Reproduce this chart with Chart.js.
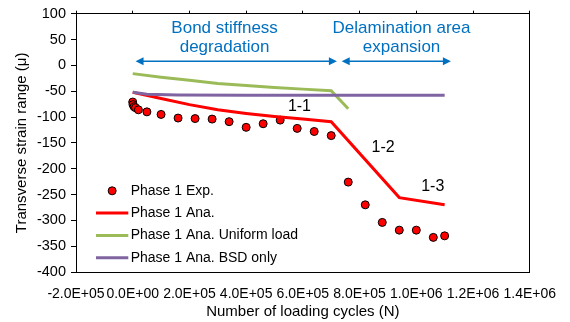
<!DOCTYPE html>
<html>
<head>
<meta charset="utf-8">
<script src="https://cdn.jsdelivr.net/npm/chart.js@4.4.1/dist/chart.umd.min.js"></script>
<style>
  html, body { margin: 0; padding: 0; background: #fff; }
  #wrap { width: 570px; height: 322px; }
</style>
</head>
<body>
<div id="wrap"><canvas id="c" width="570" height="322"></canvas></div>
<script>
// Phase 1 experimental measurements
const expCycles = [0, 1000, 5000, 10000, 20000, 50000, 100000, 160000, 220000, 280000, 340000, 400000,
                   460000, 520000, 580000, 640000, 700000, 760000, 820000, 880000, 940000, 1000000, 1060000, 1100000];
const expStrain = [-71, -76, -80, -82, -86, -90, -95, -102, -103, -104, -109, -120,
                   -113, -106, -122, -128, -136, -226, -270, -304, -319, -319, -333, -330];

// Phase 1 analytical model
const anaCycles = [0, 100000, 200000, 300000, 400000, 500000, 600000, 700000, 940000, 1100000];
const anaStrain = [-52, -64, -76, -86, -93, -99, -104, -109, -256, -270];

// Analytical model with uniform load
const uniCycles = [0, 100000, 200000, 300000, 400000, 500000, 600000, 700000, 760000];
const uniStrain = [-16, -23, -29, -35, -39, -43, -46, -49, -84];

// Analytical model, bond stiffness degradation only
const bsdCycles = [0, 50000, 160000, 400000, 700000, 1100000];
const bsdStrain = [-52, -56, -57.5, -58, -58, -58];

// Axis ranges
const xMin = -200000, xMax = 1400000, xStep = 200000;
const yMin = -400, yMax = 100, yStep = 50;

const FONT = "'Liberation Sans', Arial, sans-serif";
const BLUE = '#0070C0';

function pairs(xs, ys) { return xs.map((x, i) => ({ x: x, y: ys[i] })); }

function sci(v) {
  if (v === 0) return '0.0E+00';
  const parts = v.toExponential(1).split('e');
  const e = parseInt(parts[1], 10);
  return parts[0] + 'E' + (e < 0 ? '-' : '+') + String(Math.abs(e)).padStart(2, '0');
}

// Annotation placement, in data units
const notes = {
  phases: [
    { lines: ['Bond stiffness', 'degradation'], cycles: 324000, strain: [71, 34] },
    { lines: ['Delamination area', 'expansion'], cycles: 948000, strain: [71, 34] }
  ],
  arrows: [[10000, 720000], [737000, 1122000]],
  arrowStrain: 8,
  segments: [
    { text: '1-1', cycles: 588000, strain: -80 },
    { text: '1-2', cycles: 883000, strain: -160 },
    { text: '1-3', cycles: 1058000, strain: -235 }
  ]
};

const annotationPlugin = {
  id: 'phaseNotes',
  afterDatasetsDraw(chart) {
    const ctx = chart.ctx;
    const xs = chart.scales.x, ys = chart.scales.y;
    ctx.save();
    // phase captions
    ctx.fillStyle = BLUE;
    ctx.font = '17px ' + FONT;
    ctx.textAlign = 'center';
    ctx.textBaseline = 'middle';
    notes.phases.forEach(p => {
      const px = xs.getPixelForValue(p.cycles);
      p.lines.forEach((t, i) => ctx.fillText(t, px, ys.getPixelForValue(p.strain[i])));
    });
    // double-headed arrows
    ctx.strokeStyle = BLUE;
    ctx.lineWidth = 1.5;
    const ay = ys.getPixelForValue(notes.arrowStrain);
    notes.arrows.forEach(a => {
      const x1 = xs.getPixelForValue(a[0]), x2 = xs.getPixelForValue(a[1]);
      const head = 8, half = 4;
      ctx.beginPath();
      ctx.moveTo(x1 + head - 1, ay);
      ctx.lineTo(x2 - head + 1, ay);
      ctx.stroke();
      ctx.beginPath();
      ctx.moveTo(x1, ay); ctx.lineTo(x1 + head, ay - half); ctx.lineTo(x1 + head, ay + half); ctx.closePath();
      ctx.moveTo(x2, ay); ctx.lineTo(x2 - head, ay - half); ctx.lineTo(x2 - head, ay + half); ctx.closePath();
      ctx.fill();
    });
    // segment labels
    ctx.fillStyle = '#000';
    ctx.font = '16px ' + FONT;
    notes.segments.forEach(s => {
      ctx.fillText(s.text, xs.getPixelForValue(s.cycles), ys.getPixelForValue(s.strain));
    });
    ctx.restore();
  }
};

// Legend drawn inside the lower-left corner of the plot
const insideLegend = {
  id: 'insideLegend',
  afterDatasetsDraw(chart) {
    const ctx = chart.ctx;
    const area = chart.chartArea;
    const rowGap = 22.3;
    const lastRow = area.bottom - 14.3;
    const lineX1 = area.left + 20, lineX2 = area.left + 52.3, textX = area.left + 54.7;
    const sets = chart.data.datasets;
    ctx.save();
    ctx.font = '14px ' + FONT;
    ctx.textBaseline = 'middle';
    ctx.textAlign = 'left';
    sets.forEach((ds, i) => {
      const y = lastRow - (sets.length - 1 - i) * rowGap;
      if (ds.showLine === false) {
        ctx.beginPath();
        ctx.arc((lineX1 + lineX2) / 2, y, ds.pointRadius, 0, Math.PI * 2);
        ctx.fillStyle = ds.pointBackgroundColor;
        ctx.fill();
        ctx.lineWidth = ds.pointBorderWidth;
        ctx.strokeStyle = ds.pointBorderColor;
        ctx.stroke();
      } else {
        ctx.beginPath();
        ctx.moveTo(lineX1, y);
        ctx.lineTo(lineX2, y);
        ctx.lineWidth = ds.borderWidth;
        ctx.strokeStyle = ds.borderColor;
        ctx.stroke();
      }
      ctx.fillStyle = '#000';
      ctx.fillText(ds.label, textX, y);
    });
    ctx.restore();
  }
};

Chart.defaults.font.family = FONT;
Chart.defaults.color = '#000';

new Chart(document.getElementById('c'), {
  type: 'scatter',
  data: {
    datasets: [
      { label: 'Phase 1 Exp.', data: pairs(expCycles, expStrain), showLine: false,
        pointRadius: 4, pointBackgroundColor: '#FF0000', pointBorderColor: '#000', pointBorderWidth: 1, order: 4 },
      { label: 'Phase 1 Ana.', data: pairs(anaCycles, anaStrain), showLine: true, tension: 0,
        borderColor: '#FF0000', borderWidth: 3, pointRadius: 0, order: 3 },
      { label: 'Phase 1 Ana. Uniform load', data: pairs(uniCycles, uniStrain), showLine: true, tension: 0,
        borderColor: '#9BBB59', borderWidth: 3, pointRadius: 0, order: 2 },
      { label: 'Phase 1 Ana. BSD only', data: pairs(bsdCycles, bsdStrain), showLine: true, tension: 0,
        borderColor: '#8064A2', borderWidth: 3, pointRadius: 0, order: 1 }
    ]
  },
  options: {
    responsive: false,
    animation: false,
    devicePixelRatio: 1,
    layout: { padding: { left: 0, right: 37, top: 0, bottom: 0 } },
    plugins: { legend: { display: false }, tooltip: { enabled: false } },
    scales: {
      x: {
        type: 'linear', position: 'bottom', min: xMin, max: xMax,
        ticks: { stepSize: xStep, autoSkip: false, maxRotation: 0, padding: 14, font: { size: 14 },
                 callback: v => sci(v) },
        grid: { display: true, drawOnChartArea: false, drawTicks: false, color: '#000' },
        border: { display: true, color: '#000', width: 1 },
        title: { display: true, text: 'Number of loading cycles (N)', font: { size: 15 },
                 padding: { top: 0, bottom: 1 } },
        afterFit(s) { s.height = 50; }
      },
      xTop: {
        type: 'linear', position: 'top', min: xMin, max: xMax,
        ticks: { stepSize: xStep, display: false, autoSkip: false },
        grid: { display: true, drawOnChartArea: false, drawTicks: true, tickLength: 3, color: '#000' },
        border: { display: true, color: '#000', width: 1 },
        afterFit(s) { s.height = 12; }
      },
      y: {
        type: 'linear', position: 'left', min: yMin, max: yMax,
        ticks: { stepSize: yStep, padding: 5, font: { size: 14.5 } },
        grid: { display: true, drawOnChartArea: false, drawTicks: true, tickLength: 5, color: '#000' },
        border: { display: true, color: '#000', width: 1 },
        title: { display: true, text: 'Transverse strain range (μ)', font: { size: 15 },
                 padding: { top: 13, bottom: 0 } },
        afterFit(s) { s.width = 76; }
      },
      yRight: {
        type: 'linear', position: 'right', min: yMin, max: yMax,
        ticks: { display: false, stepSize: yStep },
        grid: { display: true, drawOnChartArea: false, drawTicks: false, color: '#000' },
        border: { display: true, color: '#000', width: 1 },
        afterFit(s) { s.width = 0; }
      }
    }
  },
  plugins: [annotationPlugin, insideLegend]
});
</script>
</body>
</html>
